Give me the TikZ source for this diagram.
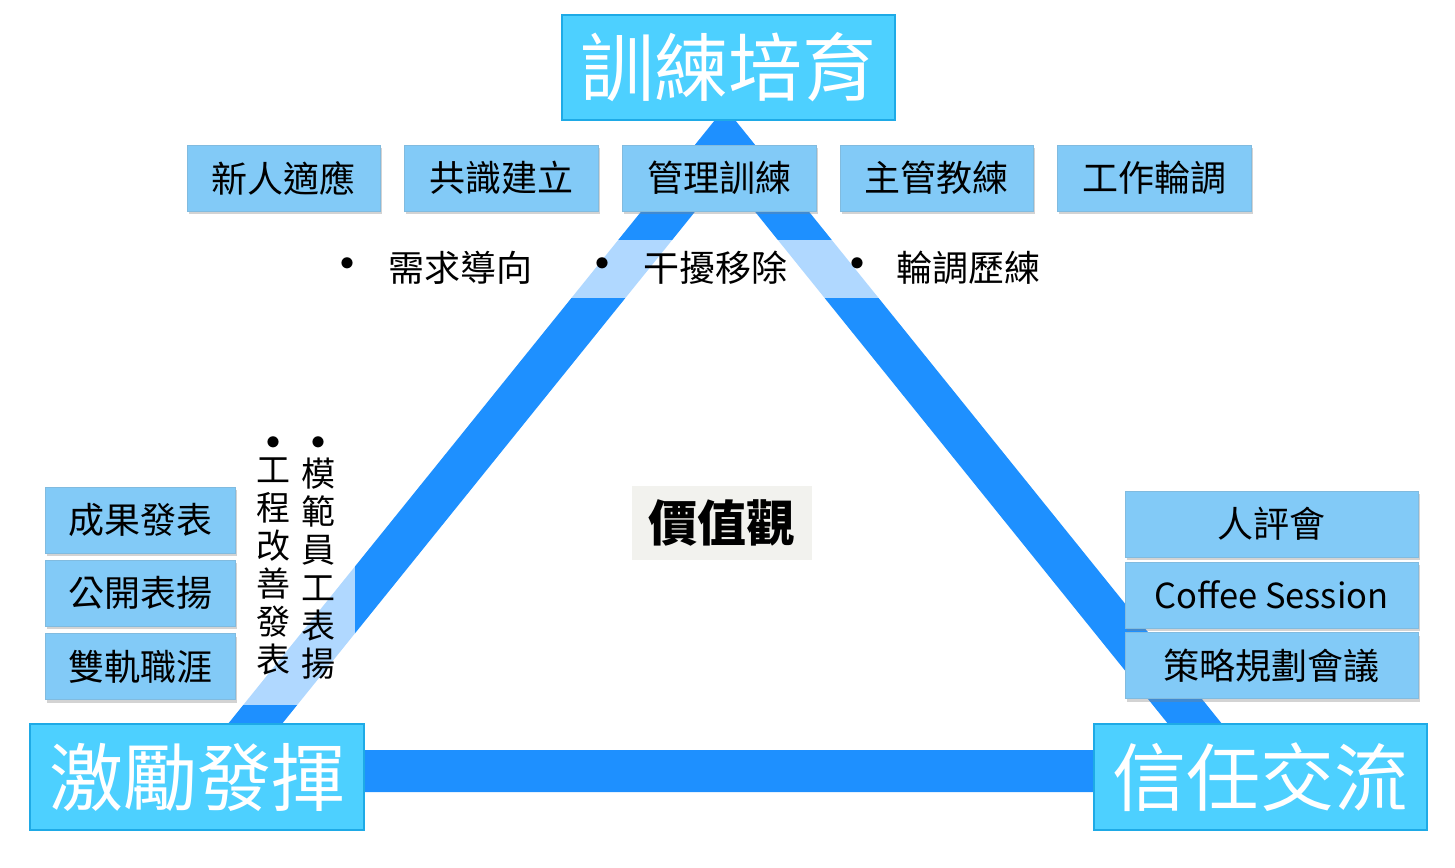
\documentclass[tikz,border=0pt]{standalone}
\usepackage{fontspec}
\setmainfont{Noto Sans CJK TC}
\usetikzlibrary{shadows}
\definecolor{band}{RGB}{30,144,255}
\definecolor{cyanbox}{RGB}{77,208,255}
\definecolor{cyanedge}{RGB}{30,170,230}
\definecolor{lbox}{RGB}{130,202,247}
\definecolor{lgray}{RGB}{242,242,238}
\begin{document}
\begin{tikzpicture}[x=1pt,y=-1pt,
 big/.style={draw=cyanedge,line width=1.5pt,fill=cyanbox,text=white,font=\fontsize{74}{78}\selectfont,inner sep=0pt},
 sm/.style={fill=lbox,draw=lbox!80!gray,drop shadow={opacity=0.35,shadow xshift=2pt,shadow yshift=-3pt},font=\fontsize{36}{40}\selectfont,inner sep=0pt,text=black},
 bul/.style={font=\fontsize{36}{40}\selectfont,anchor=west},
 bdot/.style={font=\fontsize{40}{44}\selectfont\bfseries,inner sep=0pt},
 vert/.style={font=\fontsize{34}{38}\selectfont,align=center,anchor=north,inner sep=0pt},
 dot/.style={font=\fontsize{40}{44}\selectfont\bfseries,inner sep=0pt}]
\useasboundingbox (0,0) rectangle (1455,867);
% band
\coordinate (A) at (725,141);
\coordinate (B) at (217,771);
\coordinate (C) at (1233,771);
\draw[band,line width=42pt,line join=miter] (A) -- (B) -- (C) -- cycle;
% strips
\fill[white,opacity=0.65] (325,240) rectangle (1105,298);
\fill[white,opacity=0.65] (235,435) rectangle (355,705);
% big boxes
\node[big,minimum width=333,minimum height=105] (top) at (728.5,67.5) {訓練培育};
\node[big,minimum width=334,minimum height=106] (bl) at (197,777) {激勵發揮};
\node[big,minimum width=333,minimum height=106] (br) at (1260.5,777) {信任交流};
% top row
\node[sm,minimum width=193,minimum height=66] (t1) at (283.5,178) {新人適應};
\node[sm,minimum width=194,minimum height=66] (t2) at (501,178) {共識建立};
\node[sm,minimum width=194,minimum height=66] (t3) at (719,178) {管理訓練};
\node[sm,minimum width=193,minimum height=66] (t4) at (936.5,178) {主管教練};
\node[sm,minimum width=194,minimum height=66] (t5) at (1154,178) {工作輪調};
% bullets
\node[bdot] (b1d) at (347,268) {•};
\node[bul] (b1) at (385,268) {需求導向};
\node[bdot] (b2d) at (602,268) {•};
\node[bul] (b2) at (640,268) {干擾移除};
\node[bdot] (b3d) at (857,268) {•};
\node[bul] (b3) at (893,268) {輪調歷練};
% left boxes
\node[sm,minimum width=190,minimum height=66] (l1) at (140,520) {成果發表};
\node[sm,minimum width=190,minimum height=66] (l2) at (140,593) {公開表揚};
\node[sm,minimum width=190,minimum height=66] (l3) at (140,666.5) {雙軌職涯};
% right boxes
\node[sm,minimum width=293,minimum height=66] (r1) at (1271.5,524) {人評會};
\node[sm,minimum width=293,minimum height=66,font=\fontsize{34.5}{38}\selectfont] (r2) at (1271.5,595) {Coffee Session};
\node[sm,minimum width=293,minimum height=66] (r3) at (1271.5,665.5) {策略規劃會議};
% vertical texts
\node[dot] (v1d) at (273,447) {•};
\node[dot] (v2d) at (318,447) {•};
\node[vert] (v1) at (273,458) {工\\程\\改\\善\\發\\表};
\node[vert] (v2) at (318,458) {模\\範\\員\\工\\表\\揚};
% center
\node[fill=lgray,minimum width=180,minimum height=74,font=\fontsize{49}{52}\selectfont\bfseries,inner sep=0pt] (c) at (722,523) {價值觀};
\end{tikzpicture}
\end{document}
